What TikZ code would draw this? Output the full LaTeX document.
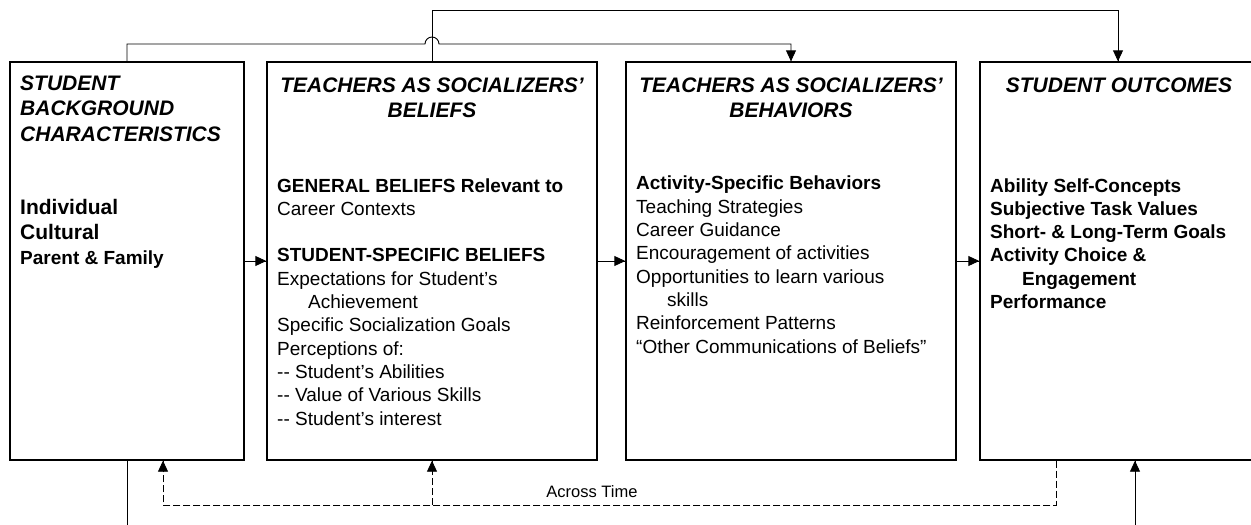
\documentclass[tikz,border=0pt]{standalone}
\usepackage{fontspec}
\setmainfont{Liberation Sans}
\usetikzlibrary{arrows.meta}
\usetikzlibrary{decorations.markings}
\usetikzlibrary{positioning}
\tikzset{endtip/.style = {decoration={markings,
                                    mark=at position 1 with {\arrow{Triangle[length=11pt, width=10pt]}}},
                        postaction={decorate}}}
\tikzset{box/.style = {draw, line width=1.4pt, minimum height=398pt, inner sep=0}}
\tikzset{hdr/.style = {font=\fontsize{21}{25.5}\selectfont\bfseries\itshape, inner sep=0}}
\tikzset{body/.style = {font=\fontsize{19}{23.3}\selectfont, align=left, inner sep=0, anchor=base west}}
\tikzset{conn/.style = {line width=0.9pt}}
\tikzset{timeline/.style = {conn, dash pattern=on 7pt off 3pt}}

\begin{document}
\begin{tikzpicture}[x=1pt, y=-1pt]
    \useasboundingbox (0, 0) rectangle (1251, 525);

    \node [box, minimum width=234pt] (bg) at (127, 261) {};
    \node [box, minimum width=330pt] (bel) at (432, 261) {};
    \node [box, minimum width=330pt] (beh) at (791, 261) {};
    \node [box, minimum width=276pt] (out) at (1118, 261) {};

    % multi-line nodes sit on the baseline of their last line
    \node [hdr, align=left, anchor=base west] (bg title) at (20, 141) {STUDENT\\BACKGROUND\\CHARACTERISTICS};
    \node [hdr, align=center, anchor=base] (bel title) at (432, 117.5) {TEACHERS AS SOCIALIZERS’\\BELIEFS};
    \node [hdr, align=center, anchor=base] (beh title) at (791, 117.5) {TEACHERS AS SOCIALIZERS’\\BEHAVIORS};
    \node [hdr, anchor=base] (out title) at (1119, 92) {STUDENT OUTCOMES};

    \node [body, font=\fontsize{21}{25}\selectfont\bfseries] (bg list) at (20, 264)
        {Individual\\Cultural\\{\fontsize{19}{25}\selectfont Parent \& Family}};
    \node [body] (bel list) at (277, 425)
        {{\bfseries GENERAL BELIEFS Relevant to}\\Career Contexts\\[23.3pt]
         {\bfseries STUDENT-SPECIFIC BELIEFS}\\Expectations for Student’s\\\hspace*{31pt}Achievement\\
         Specific Socialization Goals\\Perceptions of:\\-{}- Student’s Abilities\\
         -{}- Value of Various Skills\\-{}- Student’s interest};
    \node [body] (beh list) at (636, 353)
        {{\bfseries Activity-Specific Behaviors}\\Teaching Strategies\\Career Guidance\\
         Encouragement of activities\\Opportunities to learn various\\\hspace*{31pt}skills\\
         Reinforcement Patterns\\“Other Communications of Beliefs”};
    \node [body, font=\fontsize{19}{23.3}\selectfont\bfseries] (out list) at (990, 308.5)
        {Ability Self-Concepts\\Subjective Task Values\\Short- \& Long-Term Goals\\
         Activity Choice \&\\\hspace*{32pt}Engagement\\Performance};

    % arrows along the row
    \draw [conn, endtip] (bg.east) -- (bel.west);
    \draw [conn, endtip] (bel.east) -- (beh.west);
    \draw [conn, endtip] (beh.east) -- (out.west);

    % links over the top, the lower one hops the upper one
    \coordinate (hop) at (432, 44);
    \coordinate (top) at (432, 10);
    \draw [conn, endtip] (bg.north) |- ([xshift=-7pt] hop)
        arc [start angle=180, end angle=0, radius=7pt] -| (beh.north);
    \draw [conn, endtip] (bel.north) -- (top) -| (out.north);

    % under the row
    \coordinate (cut) at (0, 528);
    \coordinate (lag) at (0, 505);
    \coordinate (perf) at (1135, 528);
    \coordinate (fb) at ([xshift=36pt] bg.south);
    \coordinate (fo) at ([xshift=-62pt] out.south);
    \draw [conn] (bg.south) -- (bg.south |- cut);
    \draw [conn, endtip] (perf) -- (perf |- out.south);
    \draw [timeline, endtip] (fo) |- (fb |- lag) -- (fb);
    \draw [timeline, endtip] (bel.south |- lag) -- (bel.south);
    \node [font=\fontsize{16.5}{20}\selectfont, anchor=base] (lag label) at (592, 497) {Across Time};
\end{tikzpicture}
\end{document}
